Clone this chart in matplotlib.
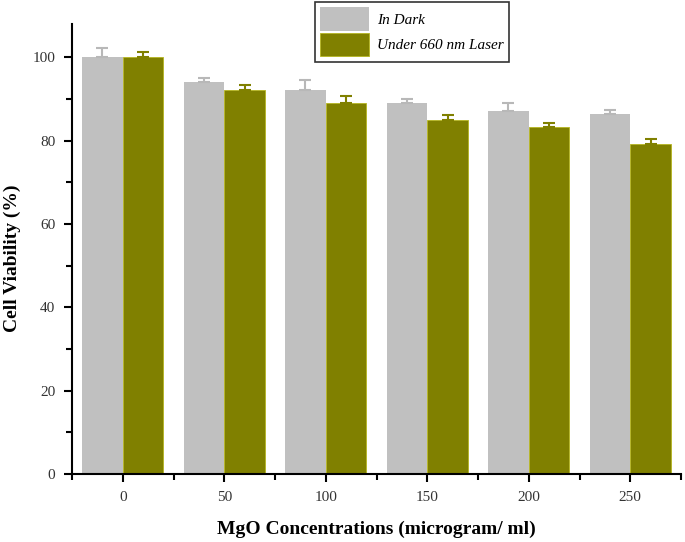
import matplotlib
matplotlib.use("Agg")
import matplotlib.pyplot as plt
import numpy as np
from matplotlib.ticker import FixedLocator

categories = ["0", "50", "100", "150", "200", "250"]
dark = [100.0, 94.2, 92.1, 89.1, 87.1, 86.3]
dark_err = [2.2, 0.8, 2.5, 0.8, 2.0, 1.1]
laser = [100.1, 92.1, 89.1, 85.0, 83.3, 79.1]
laser_err = [1.1, 1.2, 1.6, 1.2, 0.9, 1.2]
labels = ["In Dark", "Under 660 nm Laser"]

plt.rcParams['font.family'] = ['Liberation Serif', 'DejaVu Serif']

fig = plt.figure(figsize=(6.85, 5.42), dpi=100)
ax = fig.add_axes([72/685, 1-474/542, (681-72)/685, (474-24)/542])

x = np.arange(len(categories))
w = 0.4
gray = '#C0C0C0'
olive = '#808000'
b1 = ax.bar(x - w/2, dark, w, color=gray, label=labels[0], zorder=2)
b2 = ax.bar(x + w/2, laser, w, color=olive, edgecolor='#b5b520', linewidth=0.6, label=labels[1], zorder=2)
ax.errorbar(x - w/2, dark, yerr=[np.zeros(len(dark)), dark_err], fmt='none',
            ecolor='#B8B8B8', elinewidth=1.5, capsize=4.5, capthick=1.5, zorder=3)
ax.errorbar(x + w/2, laser, yerr=[np.zeros(len(laser)), laser_err], fmt='none',
            ecolor=olive, elinewidth=1.5, capsize=4.5, capthick=1.5, zorder=3)

ax.set_xlim(-0.5, 5.5)
ax.set_ylim(0, 108)
ax.set_xticks(x)
ax.set_xticklabels(categories)
ax.xaxis.set_minor_locator(FixedLocator(np.arange(-0.5, 5.51, 1.0)))
ax.yaxis.set_major_locator(FixedLocator(np.arange(0, 101, 20)))
ax.yaxis.set_minor_locator(FixedLocator(np.arange(10, 101, 20)))

for s in ['top', 'right']:
    ax.spines[s].set_visible(False)
for s in ['left', 'bottom']:
    ax.spines[s].set_linewidth(1.5)
ax.tick_params(axis='both', which='major', direction='out', length=6, width=1.5,
               labelsize=11, labelcolor='#333333', pad=6)
ax.tick_params(axis='both', which='minor', direction='out', length=4, width=1.5)

ax.set_ylabel("Cell Viability (%)", fontsize=14, fontweight='bold')
ax.yaxis.set_label_coords((21-72)/609, 0.48)
ax.set_xlabel("MgO Concentrations (microgram/ ml)", fontsize=14, fontweight='bold', labelpad=12)

leg = fig.legend(handles=[b1, b2], labels=labels,
                 loc='upper left', bbox_to_anchor=(315/685, 1-2/542),
                 prop={'style': 'italic', 'size': 11}, frameon=True, fancybox=False,
                 edgecolor='black', handlelength=3.2, handleheight=2.0,
                 labelspacing=0.12, borderpad=0.35, handletextpad=0.5, borderaxespad=0)
leg.get_frame().set_linewidth(1.2)

fig.savefig("out.png", dpi=100)
